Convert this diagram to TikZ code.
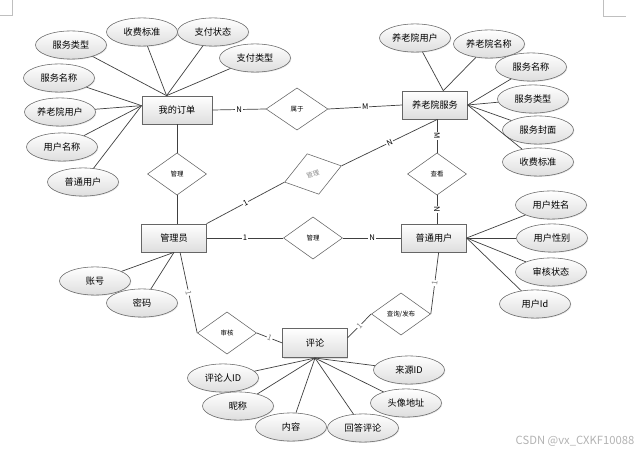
\documentclass[tikz,border=0pt]{standalone}
\usepackage{fontspec}
\setmainfont{Noto Sans CJK SC}
\usetikzlibrary{shapes.geometric,shadows}

\begin{document}
\begin{tikzpicture}[x=0.025cm,y=-0.025cm,
    ent/.style={rectangle,draw=black!60,top color=white,bottom color=black!13,
        drop shadow={opacity=0.25,shadow xshift=0.8pt,shadow yshift=-0.8pt},
        minimum width=46pt,minimum height=20pt,font=\fontsize{6.5}{7}\selectfont},
    attr/.style={ellipse,draw=black!60,top color=white,bottom color=black!13,
        drop shadow={opacity=0.2,shadow xshift=0.6pt,shadow yshift=-0.6pt},
        minimum width=50.5pt,minimum height=20pt,inner sep=0pt,font=\fontsize{6.5}{7}\selectfont},
    rel/.style={diamond,draw=black!60,fill=white,minimum width=42pt,minimum height=30pt,
        inner sep=0pt,font=\fontsize{4.6}{5}\selectfont},
    link/.style={draw=black!75,line width=0.5pt},
    card/.style={fill=white,inner sep=0.6pt,font=\fontsize{5.5}{6}\selectfont}]
    \useasboundingbox (0,0) rectangle (641,453);

    % page corners
    \draw[black!25] (12,0) -- (12,15) -- (0,15);
    \draw[black!25] (603,0) -- (603,16) -- (626,16);

    % entities
    \node[ent,minimum width=50pt] (order) at (177,110) {我的订单};
    \node[ent] (service) at (435,105) {养老院服务};
    \node[ent] (admin) at (174,238) {管理员};
    \node[ent] (user) at (434,238) {普通用户};
    \node[ent,minimum height=21pt] (comment) at (315,343) {评论};

    % relations
    \node[rel,minimum width=44pt] (belong) at (297,109) {属于};
    \node[rel] (manageA) at (177,174) {管理};
    \node[rel,rotate=16,text=black!45] (manageB) at (313,174) {管理};
    \node[rel] (view) at (437,174) {查看};
    \node[rel] (manageC) at (313,238) {管理};
    \node[rel] (audit) at (227,333) {审核};
    \node[rel] (publish) at (401,314) {查询/发布};

    % attributes of 我的订单
    \node[attr] (o1) at (71,45) {服务类型};
    \node[attr] (o2) at (142,32) {收费标准};
    \node[attr] (o3) at (213,32) {支付状态};
    \node[attr] (o4) at (255,58) {支付类型};
    \node[attr] (o5) at (59,78) {服务名称};
    \node[attr] (o6) at (60,112) {养老院用户};
    \node[attr] (o7) at (62,147) {用户名称};
    \node[attr] (o8) at (83,182) {普通用户};

    % attributes of 养老院服务
    \node[attr] (s1) at (415,38) {养老院用户};
    \node[attr] (s2) at (489,44) {养老院名称};
    \node[attr] (s3) at (531,67) {服务名称};
    \node[attr] (s4) at (533,99) {服务类型};
    \node[attr] (s5) at (538,130) {服务封面};
    \node[attr] (s6) at (538,162) {收费标准};

    % attributes of 管理员
    \node[attr] (a1) at (95,281) {账号};
    \node[attr] (a2) at (142,303) {密码};

    % attributes of 普通用户
    \node[attr] (u1) at (551,205) {用户姓名};
    \node[attr] (u2) at (552,238) {用户性别};
    \node[attr] (u3) at (551,272) {审核状态};
    \node[attr] (u4) at (535,304) {用户Id};

    % attributes of 评论
    \node[attr] (c1) at (223,378) {评论人ID};
    \node[attr] (c2) at (238,406) {昵称};
    \node[attr] (c3) at (291,427) {内容};
    \node[attr] (c4) at (363,428) {回答评论};
    \node[attr] (c5) at (409,370) {来源ID};
    \node[attr] (c6) at (406,403) {头像地址};

    \draw[link] (order.126) -- (o1);
    \draw[link] (order.126) -- (o2);
    \draw[link] (order.126) -- (o3);
    \draw[link] (order.126) -- (o4);
    \draw[link] (order.173) -- (o5);
    \draw[link] (order.173) -- (o6);
    \draw[link] (order.173) -- (o7);
    \draw[link] (order.173) -- (o8);

    \draw[link] (service.60) -- (s1);
    \draw[link] (service.60) -- (s2);
    \draw[link] (service.east) -- (s3);
    \draw[link] (service.east) -- (s4);
    \draw[link] (service.east) -- (s5);
    \draw[link] (service.east) -- (s6);

    \draw[link] (admin.south) -- (a1);
    \draw[link] (admin.south) -- (a2);

    \draw[link] (user.east) -- (u1);
    \draw[link] (user.east) -- (u2);
    \draw[link] (user.east) -- (u3);
    \draw[link] (user.east) -- (u4);

    \draw[link] (comment.south) -- (c1);
    \draw[link] (comment.south) -- (c2);
    \draw[link] (comment.south) -- (c3);
    \draw[link] (comment.south) -- (c4);
    \draw[link] (comment.south) -- (c5);
    \draw[link] (comment.south) -- (c6);

    % relationships
    \draw[link] (order.east) -- node[card] {N} (belong.west);
    \draw[link] (belong.east) -- node[card] {M} (service.west);
    \draw[link] (manageA.north) -- (manageA.north |- order.south);
    \draw[link] (manageA.south) -- (manageA.south |- admin.north);
    \draw[link] (admin.north east) -- node[card,sloped] {1} (manageB.west);
    \draw[link] (manageB.east) -- node[card,sloped] {N} (service.-80);
    \draw[link] (view.north) -- node[card,rotate=-90] {M} (view.north |- service.south);
    \draw[link] (view.south) -- node[card,rotate=-90] {N} (view.south |- user.north);
    \draw[link] (admin.east) -- node[card] {1} (manageC.west);
    \draw[link] (manageC.east) -- node[card] {N} (user.west);
    \draw[link] (admin.-67) -- node[card,sloped,text=black!50] {1} (audit.west);
    \draw[link] (audit.east) -- node[card,sloped,text=black!50] {1} (comment.west);
    \draw[link] (comment.9) -- node[card,sloped,text=black!50] {1} (publish.west);
    \draw[link] (publish.east) -- node[card,sloped,text=black!50] {1} (user.-72);

    \node[text=black!30,font=\fontsize{8}{9}\selectfont] (mark) at (575,441) {CSDN @vx\_CXKF10088};
\end{tikzpicture}
\end{document}
